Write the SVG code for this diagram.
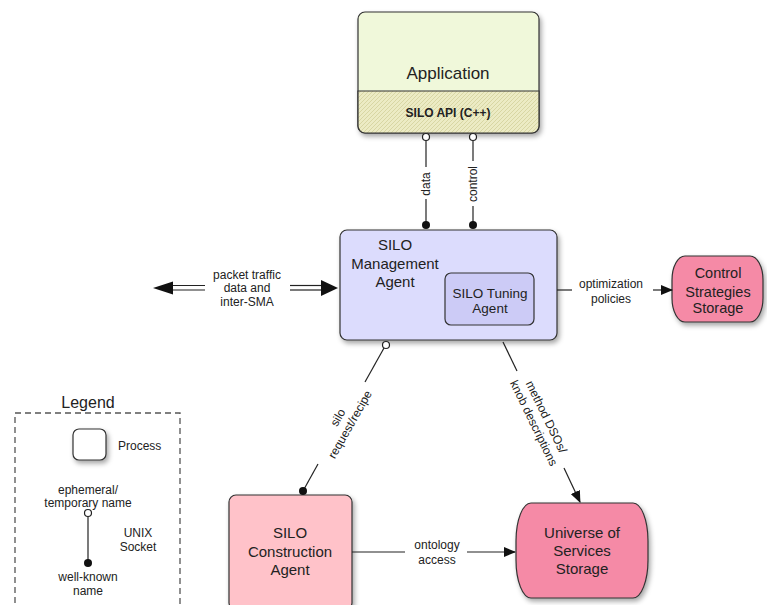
<svg xmlns="http://www.w3.org/2000/svg" width="767" height="605" viewBox="0 0 767 605">
<style>
  text { font-family: "Liberation Sans", Arial, sans-serif; fill: #222; text-anchor: middle; }
  .lbl { font-size: 12px; }
  .big { font-size: 15px; }
  .box { stroke: #333; stroke-width: 1.2; filter: url(#sh); }
  .ln { stroke: #222; stroke-width: 1.2; fill: none; }
  .open { fill: #fff; stroke: #222; stroke-width: 1.2; }
  .fill { fill: #111; }
</style>
<defs>
  <filter id="sh" x="-20%" y="-20%" width="150%" height="150%">
    <feDropShadow dx="2" dy="3" stdDeviation="2.5" flood-color="#000" flood-opacity="0.35"/>
  </filter>
  <pattern id="hatch" width="4" height="4" patternUnits="userSpaceOnUse">
    <rect width="4" height="4" fill="#ecebc4"/>
    <path d="M0,4 L4,0 M-1,1 L1,-1 M3,5 L5,3" stroke="#d3d19a" stroke-width="0.8"/>
  </pattern>
  <marker id="arr" markerWidth="12" markerHeight="10" refX="11" refY="5" orient="auto" markerUnits="userSpaceOnUse">
    <path d="M0,0 L12,5 L0,10 Z" fill="#111"/>
  </marker>
</defs>

<g id="application">
  <rect class="box" x="358" y="12" width="181" height="121" rx="7" fill="#f0f8da"/>
  <path d="M358,91 H539 V126 A7,7 0 0 1 532,133 H365 A7,7 0 0 1 358,126 Z" fill="url(#hatch)" stroke="#333" stroke-width="1.2"/>
  <text x="448" y="79" style="font-size:17px">Application</text>
  <text x="448" y="117" style="font-size:12px;font-weight:bold">SILO API (C++)</text>
</g>

<g id="management-agent">
  <rect class="box" x="340" y="230" width="217" height="110" rx="7" fill="#dcdcfd"/>
  <text class="big" x="395" y="250">SILO</text>
  <text class="big" x="395" y="269">Management</text>
  <text class="big" x="395" y="287">Agent</text>
</g>

<g id="tuning-agent">
  <rect x="445" y="273" width="89" height="52" rx="6" fill="#cccbf6" stroke="#333" stroke-width="1.2"/>
  <text x="490" y="298" style="font-size:13.5px">SILO Tuning</text>
  <text x="490" y="313" style="font-size:13.5px">Agent</text>
</g>

<g id="control-strategies-storage">
  <rect class="box" x="672" y="256" width="91" height="66" rx="13" ry="24" fill="#f58aa6"/>
  <text x="718" y="278" style="font-size:14.5px">Control</text>
  <text x="718" y="297" style="font-size:14.5px">Strategies</text>
  <text x="718" y="313" style="font-size:14.5px">Storage</text>
</g>

<g id="construction-agent">
  <rect class="box" x="229" y="495" width="123" height="115" rx="7" fill="#ffc2c9"/>
  <text class="big" x="290" y="538">SILO</text>
  <text class="big" x="290" y="557">Construction</text>
  <text class="big" x="290" y="575">Agent</text>
</g>

<g id="universe-storage">
  <rect class="box" x="516" y="503" width="132" height="95" rx="15" ry="38" fill="#f58aa6"/>
  <text class="big" x="582" y="538">Universe of</text>
  <text class="big" x="582" y="556">Services</text>
  <text class="big" x="582" y="574">Storage</text>
</g>

<g id="connectors">
  <!-- data -->
  <line class="ln" x1="426" y1="141" x2="426" y2="167"/>
  <line class="ln" x1="426" y1="199" x2="426" y2="224"/>
  <circle class="open" cx="426" cy="137" r="3.5"/>
  <circle class="fill" cx="426" cy="225" r="4"/>
  <text class="lbl" transform="translate(430,184) rotate(-90)">data</text>
  <!-- control -->
  <line class="ln" x1="473" y1="141" x2="473" y2="161"/>
  <line class="ln" x1="473" y1="206" x2="473" y2="224"/>
  <circle class="open" cx="473" cy="137" r="3.5"/>
  <circle class="fill" cx="473" cy="225" r="4"/>
  <text class="lbl" transform="translate(477,184) rotate(-90)">control</text>

  <!-- packet traffic -->
  <line class="ln" x1="172" y1="285.5" x2="205" y2="285.5" stroke="#444"/>
  <line class="ln" x1="172" y1="290" x2="205" y2="290" stroke="#444"/>
  <path d="M153,288 L173,281.5 L173,294.5 Z" fill="#111"/>
  <line class="ln" x1="290" y1="285.5" x2="322" y2="285.5" stroke="#444"/>
  <line class="ln" x1="290" y1="290" x2="322" y2="290" stroke="#444"/>
  <path d="M338,288 L321,280 L321,296 Z" fill="#111"/>
  <text class="lbl" x="247" y="279">packet traffic</text>
  <text class="lbl" x="247" y="292">data and</text>
  <text class="lbl" x="247" y="306">inter-SMA</text>

  <!-- optimization policies -->
  <line class="ln" x1="557" y1="290" x2="572" y2="290"/>
  <line class="ln" x1="653" y1="290" x2="672" y2="290" marker-end="url(#arr)"/>
  <text class="lbl" x="611" y="288">optimization</text>
  <text class="lbl" x="611" y="303">policies</text>

  <!-- silo request/recipe -->
  <line class="ln" x1="384" y1="348" x2="365" y2="382"/>
  <line class="ln" x1="318" y1="464" x2="303" y2="491"/>
  <circle class="open" cx="386" cy="345" r="3.5"/>
  <circle class="fill" cx="303" cy="491" r="4"/>
  <g transform="translate(344,421) rotate(-60.4)">
    <text class="lbl" x="0" y="-3">silo</text>
    <text class="lbl" x="0" y="11">request/recipe</text>
  </g>

  <!-- method DSOs -->
  <line class="ln" x1="503" y1="342" x2="517" y2="371"/>
  <line class="ln" x1="564" y1="468" x2="580" y2="502" marker-end="url(#arr)"/>
  <g transform="translate(540,420) rotate(64)">
    <text class="lbl" x="0" y="-3">method DSOs/</text>
    <text class="lbl" x="0" y="11">knob descriptions</text>
  </g>

  <!-- ontology access -->
  <line class="ln" x1="352" y1="552" x2="405" y2="552"/>
  <line class="ln" x1="467" y1="552" x2="515" y2="552" marker-end="url(#arr)"/>
  <text class="lbl" x="437" y="549">ontology</text>
  <text class="lbl" x="437" y="564">access</text>
</g>

<g id="legend">
  <text x="88" y="408" style="font-size:16px">Legend</text>
  <rect x="15" y="413" width="165" height="200" fill="none" stroke="#555" stroke-width="1.3" stroke-dasharray="6,4"/>
  <rect class="box" x="73" y="429" width="33" height="31" rx="6" fill="#fff"/>
  <text class="lbl" x="118" y="450" style="text-anchor:start">Process</text>
  <text class="lbl" x="88" y="494">ephemeral/</text>
  <text class="lbl" x="88" y="507">temporary name</text>
  <line class="ln" x1="88" y1="517" x2="88" y2="563"/>
  <circle class="open" cx="88" cy="513" r="3.5"/>
  <circle class="fill" cx="88" cy="563" r="4"/>
  <text class="lbl" x="138" y="537">UNIX</text>
  <text class="lbl" x="138" y="551">Socket</text>
  <text class="lbl" x="88" y="581">well-known</text>
  <text class="lbl" x="88" y="595">name</text>
</g>
</svg>
